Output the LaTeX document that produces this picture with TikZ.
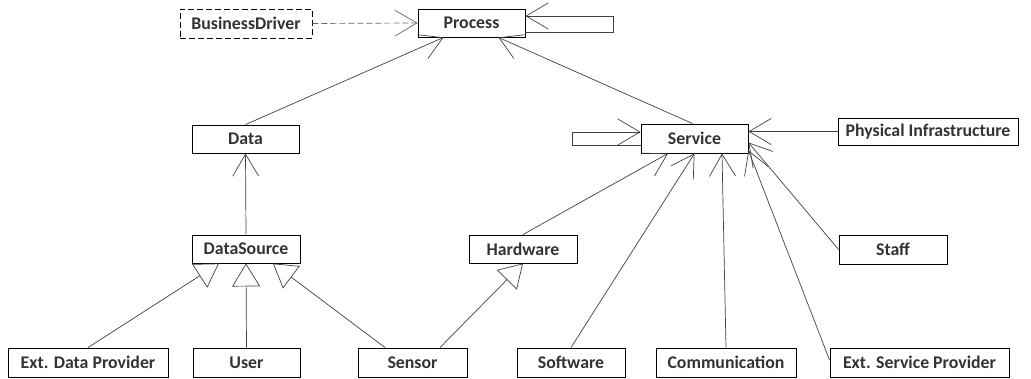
\documentclass[tikz,border=0pt]{standalone}
\usepackage{fontspec}
\setmainfont{Carlito}
\usetikzlibrary{arrows.meta}

\begin{document}
\begin{tikzpicture}[x=1pt,y=-1pt,
		cls/.style={draw=black, line width=0.9pt, fill=white, minimum height=28pt, inner sep=0pt,
			font=\fontsize{17.8}{19}\selectfont\bfseries, text=black!80},
		assoc/.style={draw=black!75, line width=0.7pt, -{Straight Barb[length=22pt,width=26pt]}},
		gen/.style={draw=black!75, line width=0.7pt, -{Triangle[open,length=23pt,width=28pt]}}]
			\useasboundingbox (0,0) rectangle (1031,379);
			% top and middle classes
			\node[cls, dashed, dash pattern=on 6pt off 3pt, minimum width=132pt, minimum height=29pt] (driver) at (246,23.5) {BusinessDriver};
			\node[cls, minimum width=107pt] (process) at (471.5,23) {Process};
			\node[cls, minimum width=107pt] (data) at (245.5,139) {Data};
			\node[cls, minimum width=107pt, minimum height=29pt] (service) at (694.5,138.5) {Service};
			\node[cls, minimum width=180pt, minimum height=27pt] (infra) at (928,131.5) {Physical Infrastructure};
			\node[cls, minimum width=108pt] (datasource) at (246,249) {DataSource};
			\node[cls, minimum width=108pt] (hardware) at (523,249) {Hardware};
			\node[cls, minimum width=108pt, minimum height=29pt] (staff) at (893,249.5) {Staff};
			% bottom row
			\foreach \name/\x/\w/\txt in {edp/88/160/Ext. Data Provider, user/246.5/107/User, sensor/412.5/109/Sensor,
				software/571/108/Software, comm/726/140/Communication, esp/919.5/179/Ext. Service Provider} {
				\node[cls, minimum width=\w pt, minimum height=29pt] (\name) at (\x,362.5) {\txt};
			}
			% associations
			\draw[assoc, black!60, dashed, dash pattern=on 6pt off 3pt] (driver.east) -- (process.west);
			\draw[assoc] (data.north) -- ([xshift=-28pt]process.south);
			\draw[assoc] ([xshift=-2pt]service.north) -- ([xshift=27pt]process.south);
			\draw[assoc] ([yshift=-9pt]process.east) -- ++(88,0) -- ++(0,-16) -- ([yshift=7pt]process.east);
			\draw[assoc] ([yshift=-6.5pt]service.west) -- ++(-68,0) -- ++(0,-13) -- ([yshift=6.5pt]service.west);
			\draw[assoc] (infra.west) -- (service.east |- infra.west);
			\draw[assoc] (datasource.north) -- (data.south);
			\draw[assoc] (hardware.north) -- ([xshift=-26.5pt]service.south);
			\draw[assoc] (software.north) -- (service.south);
			\draw[assoc] (comm.north) -- ([xshift=27.5pt]service.south);
			\draw[assoc] (staff.west) -- ([yshift=-4pt]service.east);
			\draw[assoc] ([yshift=2.5pt]esp.west) -- ([yshift=3pt]service.south east);
			% generalizations
			\draw[gen] (edp.north) -- ([xshift=-27pt]datasource.south);
			\draw[gen] (user.north) -- (datasource.south);
			\draw[gen] ([xshift=-27.5pt]sensor.north) -- ([xshift=27pt]datasource.south);
			\draw[gen] ([xshift=27.5pt]sensor.north) -- (hardware.south);
		\end{tikzpicture}
\end{document}
